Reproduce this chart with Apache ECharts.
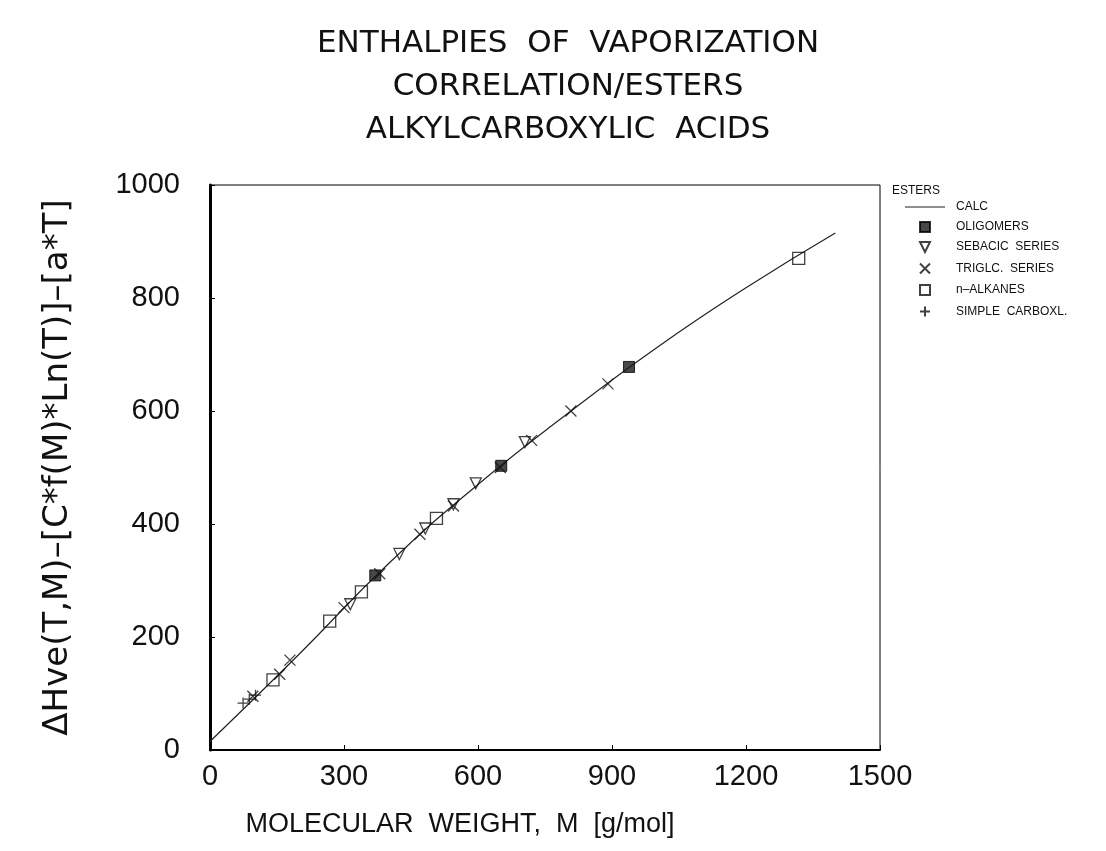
<!DOCTYPE html>
<html>
<head>
<meta charset="utf-8">
<script src="https://cdn.jsdelivr.net/npm/echarts@6/dist/echarts.min.js"></script>
<style>
  html, body { margin: 0; padding: 0; background: #fff; }
  #chart { width: 1106px; height: 851px; }
</style>
</head>
<body>
<div id="chart"></div>
<script>
// values: [molecular weight, value]
var calcLine = [[0, 15], [200, 170], [400, 330], [600, 470], [800, 595], [1000, 712], [1200, 818], [1400, 915]];
var oligomers = [[370, 309], [652, 503], [938, 678]];
var sebacic = [[314, 258], [424, 347], [482, 392], [545, 435], [595, 472], [705, 545]];
var triglc = [[96, 95], [156, 134], [179, 159], [300, 252], [380, 312], [470, 382], [545, 432], [650, 500], [720, 548], [808, 600], [891, 648]];
var alkanes = [[141, 124], [268, 228], [339, 280], [507, 410], [1318, 870]];
var carboxyl = [[74, 83], [88, 90], [102, 97]];

var xTicks = [0, 300, 600, 900, 1200, 1500];
var yTicks = [0, 200, 400, 600, 800, 1000];

var font = 'Liberation Sans';
var wide = 'DejaVu Sans';
var squarePath = 'path://M0,0L10,0L10,10L0,10Z';
var trianglePath = 'path://M0,0L10,0L5,10Z';
var crossPath = 'path://M0,0L10,10M10,0L0,10';
var plusPath = 'path://M5,0L5,10M0,5L10,5';
var linePath = 'path://M0,0L40,0L40,1L0,1Z';

var chart = echarts.init(document.getElementById('chart'));
chart.setOption({
  animation: false,
  backgroundColor: '#fff',
  textStyle: { fontFamily: font, color: '#111' },
  title: [{
    text: 'ENTHALPIES  OF  VAPORIZATION\nCORRELATION/ESTERS\nALKYLCARBOXYLIC  ACIDS',
    left: 563,
    top: 17,
    textAlign: 'center',
    textStyle: { fontSize: 31, fontWeight: 'normal', lineHeight: 43, color: '#111', fontFamily: wide }
  }, {
    text: 'ESTERS',
    left: 887,
    top: 180,
    textStyle: { fontSize: 12, fontWeight: 'normal', color: '#111', fontFamily: font }
  }, {
    text: 'MOLECULAR  WEIGHT,  M  [g/mol]',
    left: 455,
    top: 806,
    textAlign: 'center',
    textStyle: { fontSize: 27, fontWeight: 'normal', color: '#111', fontFamily: font }
  }],
  legend: {
    orient: 'vertical',
    left: 900,
    top: 196,
    itemWidth: 40,
    itemHeight: 10,
    itemGap: 8,
    textStyle: { fontSize: 12, color: '#111', fontFamily: font, padding: [0, 0, 0, 6] },
    data: [
      { name: 'CALC', icon: linePath },
      'OLIGOMERS', 'SEBACIC  SERIES', 'TRIGLC.  SERIES', 'n\u2013ALKANES', 'SIMPLE  CARBOXL.'
    ]
  },
  grid: {
    left: 210, right: 226, top: 185, bottom: 101,
    show: true, borderColor: '#000', borderWidth: 1
  },
  xAxis: {
    type: 'value',
    min: xTicks[0],
    max: xTicks[xTicks.length - 1],
    interval: 300,
    axisLine: { lineStyle: { color: '#000', width: 2 } },
    axisTick: { inside: true, length: 5, lineStyle: { color: '#000' } },
    axisLabel: { fontSize: 29, color: '#111', margin: 12, fontFamily: font, formatter: function (v) { return String(v); } },
    splitLine: { show: false }
  },
  yAxis: {
    type: 'value',
    min: yTicks[0],
    max: yTicks[yTicks.length - 1],
    interval: 200,
    name: '\u0394Hve(T,M)\u2013[C*f(M)*Ln(T)]\u2013[a*T]',
    nameLocation: 'middle',
    nameGap: 135,
    nameTextStyle: { fontSize: 34, color: '#111', fontFamily: wide },
    axisLine: { lineStyle: { color: '#000', width: 3 } },
    axisTick: { inside: true, length: 5, lineStyle: { color: '#000' } },
    axisLabel: { fontSize: 29, color: '#111', margin: 30, fontFamily: font, formatter: function (v) { return String(v); } },
    splitLine: { show: false }
  },
  series: [{
    name: 'CALC',
    type: 'line',
    data: calcLine,
    smooth: true,
    showSymbol: false,
    symbol: 'none',
    lineStyle: { color: '#222', width: 1.2 },
    itemStyle: { color: '#222' },
    z: 1
  }, {
    name: 'OLIGOMERS',
    type: 'scatter',
    data: oligomers,
    symbol: squarePath,
    symbolSize: 11,
    itemStyle: { color: '#1a1a1a', borderColor: '#000', borderWidth: 1 }
  }, {
    name: 'SEBACIC  SERIES',
    type: 'scatter',
    data: sebacic,
    symbol: trianglePath,
    symbolSize: 11,
    itemStyle: { color: 'rgba(255,255,255,0)', borderColor: '#111', borderWidth: 1.3 }
  }, {
    name: 'TRIGLC.  SERIES',
    type: 'scatter',
    data: triglc,
    symbol: crossPath,
    symbolSize: 11,
    itemStyle: { color: 'none', borderColor: '#111', borderWidth: 1.3 }
  }, {
    name: 'n\u2013ALKANES',
    type: 'scatter',
    data: alkanes,
    symbol: squarePath,
    symbolSize: 12,
    itemStyle: { color: 'rgba(255,255,255,0)', borderColor: '#111', borderWidth: 1.3 }
  }, {
    name: 'SIMPLE  CARBOXL.',
    type: 'scatter',
    data: carboxyl,
    symbol: plusPath,
    symbolSize: 11,
    itemStyle: { color: 'none', borderColor: '#111', borderWidth: 1.3 }
  }]
});
</script>
</body>
</html>
